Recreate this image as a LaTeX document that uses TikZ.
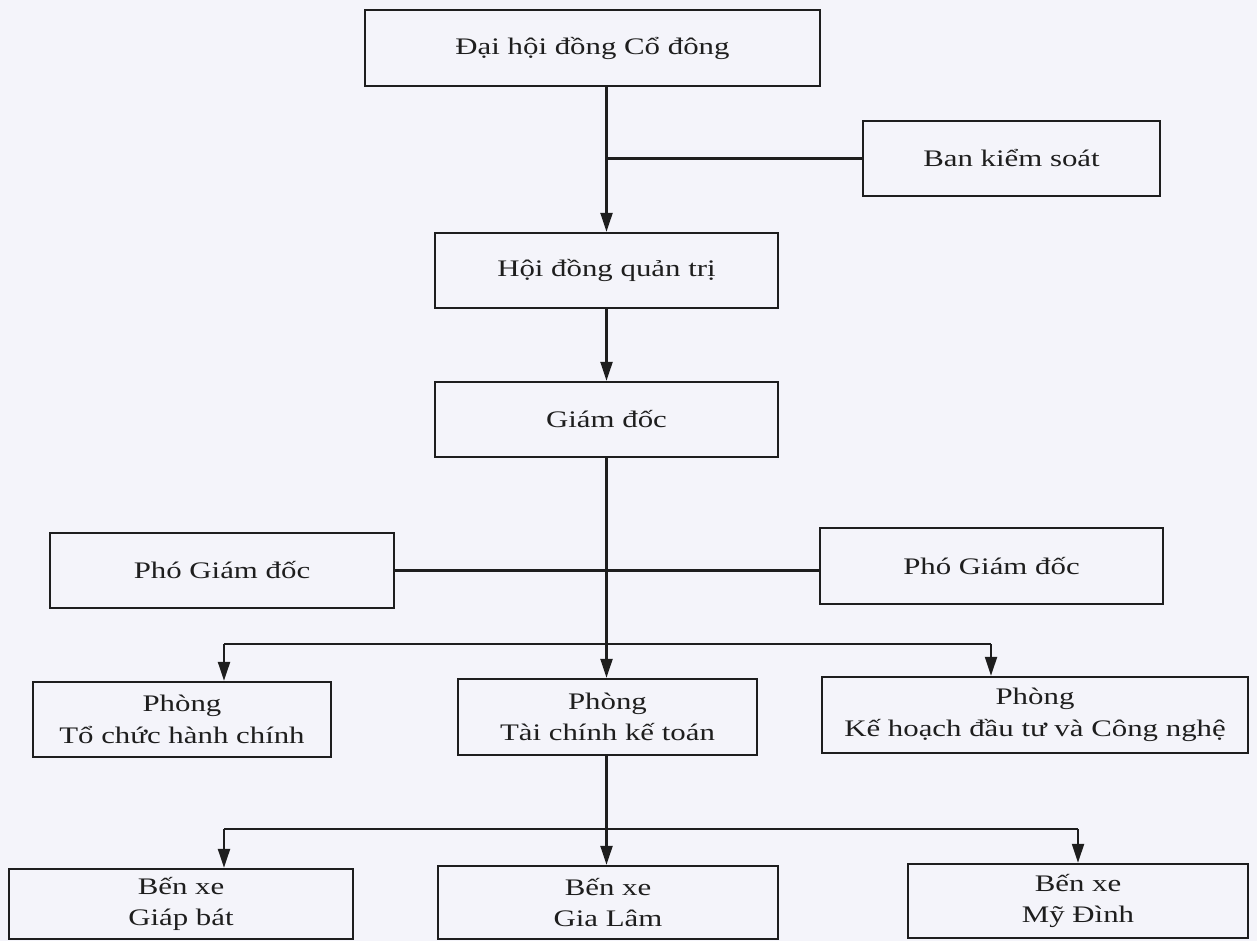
\documentclass[tikz,border=0pt]{standalone}
\usepackage{fontspec}
\setmainfont{Liberation Serif}[FakeStretch=1.3]
\usetikzlibrary{arrows.meta,positioning,calc}
\definecolor{paper}{RGB}{244,244,250}
\definecolor{ink}{RGB}{30,30,30}

\begin{document}
\begin{tikzpicture}[
    x=0.02cm, y=-0.02cm,
    every node/.style = {font=\fontsize{13.5}{18}\selectfont, text=ink},
    box/.style = {draw=ink, line width=1.4pt, rectangle, inner sep=0pt, align=center},
    link/.style = {draw=ink, line width=1.3pt},
    arrowlink/.style = {link, -{Triangle[length=0.38cm,width=0.24cm]}},
    ]
    \fill[paper] (0,0) rectangle (1257,941);
    \useasboundingbox (0,0) rectangle (1257,941);

    \node[box, minimum width=9.1cm, minimum height=1.52cm] (box-dhcd) at (592.5,48) {Đại hội đồng Cổ đông};
    \node[box, minimum width=5.94cm, minimum height=1.5cm] (box-bks) at (1011.5,158.5) {Ban kiểm soát};
    \node[box, minimum width=6.86cm, minimum height=1.5cm] (box-hdqt) at (606.5,270.5) {Hội đồng quản trị};
    \node[box, minimum width=6.86cm, minimum height=1.5cm] (box-gd) at (606.5,419.5) {Giám đốc};
    \node[box, minimum width=6.88cm, minimum height=1.5cm] (box-pgd1) at (222,570.5) {Phó Giám đốc};
    \node[box, minimum width=6.86cm, minimum height=1.52cm] (box-pgd2) at (991.5,566) {Phó Giám đốc};
    \node[box, minimum width=5.96cm, minimum height=1.5cm] (box-ptc) at (182,719.5) {Phòng\\Tổ chức hành chính};
    \node[box, minimum width=5.98cm, minimum height=1.52cm] (box-pkt) at (607.5,717) {Phòng\\Tài chính kế toán};
    \node[box, minimum width=8.52cm, minimum height=1.52cm] (box-pkh) at (1035,715) {Phòng\\Kế hoạch đầu tư và Công nghệ};
    \node[box, minimum width=6.88cm, minimum height=1.4cm] (box-bgb) at (181,904) {Bến xe\\Giáp bát};
    \node[box, minimum width=6.8cm, minimum height=1.46cm] (box-bgl) at (608,902.5) {Bến xe\\Gia Lâm};
    \node[box, minimum width=6.8cm, minimum height=1.48cm] (box-bmd) at (1078,901) {Bến xe\\Mỹ Đình};

    % main line
    \draw[arrowlink] (box-dhcd.south -| box-hdqt.north) -- (box-hdqt.north);
    \draw[link] (box-bks.west) -- (box-bks.west -| box-hdqt.north);
    \draw[arrowlink] (box-hdqt.south) -- (box-gd.north);
    \draw[arrowlink] (box-gd.south) -- (box-gd.south |- box-pkt.north);
    \draw[link] (box-pgd1.east) -- (box-pgd1.east -| box-pgd2.west);

    % phong
    \coordinate (split-l) at (224,644);
    \coordinate (split-r) at (991,644);
    \draw[link] (split-l) -- (split-r);
    \draw[arrowlink] (split-l) -- (split-l |- box-ptc.north);
    \draw[arrowlink] (split-r) -- (split-r |- box-pkh.north);

    % ben xe
    \coordinate (split-bl) at (224,829);
    \coordinate (split-br) at (1078,829);
    \draw[arrowlink] (box-pkt.south -| box-gd.south) -- (box-gd.south |- box-bgl.north);
    \draw[link] (split-bl) -- (split-br);
    \draw[arrowlink] (split-bl) -- (split-bl |- box-bgb.north);
    \draw[arrowlink] (split-br) -- (split-br |- box-bmd.north);
\end{tikzpicture}
\end{document}
